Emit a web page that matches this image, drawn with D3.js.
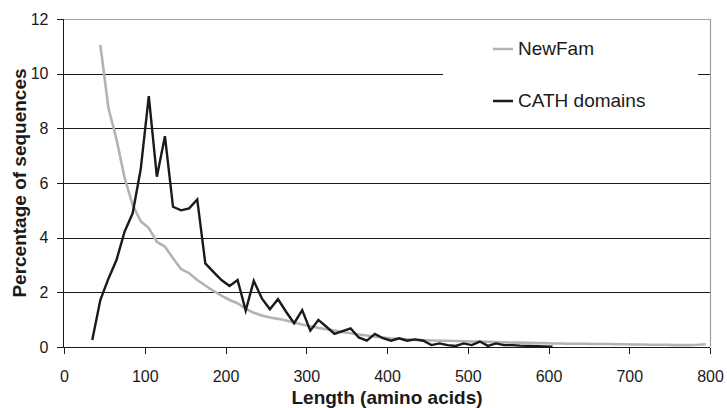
<!DOCTYPE html>
<meta charset="utf-8">
<style>
body { margin: 0; background: #fff; }
svg text { font-family: "Liberation Sans", Arial, sans-serif; fill: #1a1a1a; }
.tick text { font-size: 16px; }
.axis path, .axis line { stroke: #1a1a1a; shape-rendering: crispEdges; }
</style>
<body>
<svg id="chart" width="727" height="408"></svg>
<script src="https://cdn.jsdelivr.net/npm/d3@7"></script>
<script>
// bin centres (amino acids) and percentages
var newFamLen = [45,55,65,75,85,95,105,115,125,135,145,155,165,175,185,195,205,215,225,235,
  245,255,265,275,285,295,305,315,325,335,345,355,365,375,385,395,405,415,425,435,
  445,455,465,475,485,495,505,515,525,535,545,555,565,575,585,595,605,615,625,635,
  645,655,665,675,685,695,705,715,725,735,745,755,765,775,785,795];
var newFamPct = [11.05,8.75,7.6,6.2,5.2,4.6,4.35,3.85,3.67,3.25,2.85,2.7,2.45,2.25,2.05,1.88,1.72,1.6,1.4,1.25,
  1.15,1.08,1.03,0.97,0.9,0.82,0.76,0.7,0.65,0.6,0.55,0.5,0.46,0.42,0.38,0.35,0.32,0.3,0.28,0.26,
  0.25,0.24,0.23,0.23,0.22,0.21,0.2,0.2,0.19,0.18,0.17,0.16,0.16,0.15,0.14,0.14,0.13,0.13,0.12,0.12,
  0.12,0.11,0.11,0.11,0.1,0.1,0.09,0.09,0.08,0.08,0.08,0.07,0.07,0.07,0.08,0.1];

var cathLen = [35,45,55,65,75,85,95,105,115,125,135,145,155,165,175,185,195,205,215,225,
  235,245,255,265,275,285,295,305,315,325,335,345,355,365,375,385,395,405,415,425,
  435,445,455,465,475,485,495,505,515,525,535,545,555,565,575,585,595,605];
var cathPct = [0.26,1.72,2.5,3.18,4.22,4.89,6.5,9.18,6.23,7.71,5.13,5.0,5.07,5.4,3.06,2.75,2.45,2.23,2.45,1.33,
  2.42,1.78,1.38,1.75,1.29,0.87,1.35,0.6,0.99,0.74,0.48,0.58,0.68,0.35,0.23,0.48,0.32,0.23,0.32,0.23,
  0.28,0.23,0.07,0.13,0.07,0.04,0.13,0.07,0.2,0.04,0.13,0.07,0.07,0.05,0.04,0.03,0.02,0.01];

var xTicks = [0,100,200,300,400,500,600,700,800];
var yTicks = [0,2,4,6,8,10,12];
var gridVals = [2,4,6,8,10];

var svg = d3.select("#chart");
var x = d3.scaleLinear().domain([0, 800]).range([64, 710]);
var y = d3.scaleLinear().domain([0, 12]).range([347, 19]);

// gridlines
svg.append("g").selectAll("line")
  .data(gridVals)
  .enter().append("line")
  .attr("x1", x(0)).attr("x2", x(800))
  .attr("y1", function(d) { return Math.round(y(d)) + 0.5; })
  .attr("y2", function(d) { return Math.round(y(d)) + 0.5; })
  .attr("stroke", "#1a1a1a")
  .attr("stroke-width", 1);

// plot frame top/right
svg.append("path")
  .attr("d", "M" + x(0) + "," + (y(12) + 0.5) + "H" + (x(800) + 0.5) + "V" + y(0))
  .attr("fill", "none")
  .attr("stroke", "#a0a0a0")
  .attr("stroke-width", 1.2);

// legend box hides the 10% gridline
svg.append("rect")
  .attr("x", 443).attr("y", 30)
  .attr("width", 255).attr("height", 88)
  .attr("fill", "#fff");

var line = d3.line()
  .x(function(d) { return x(d[0]); })
  .y(function(d) { return y(d[1]); });

svg.append("path")
  .datum(d3.zip(newFamLen, newFamPct))
  .attr("d", line)
  .attr("fill", "none")
  .attr("stroke", "#b3b3b3")
  .attr("stroke-width", 2.6)
  .attr("stroke-linejoin", "round");

svg.append("path")
  .datum(d3.zip(cathLen, cathPct))
  .attr("d", line)
  .attr("fill", "none")
  .attr("stroke", "#1a1a1a")
  .attr("stroke-width", 2.4)
  .attr("stroke-linejoin", "miter");

// axes
svg.append("g")
  .attr("class", "axis")
  .attr("transform", "translate(0," + (Math.round(y(0)) + 0.5) + ")")
  .call(d3.axisBottom(x).tickValues(xTicks).tickSize(6).tickPadding(17))
  .call(function(g) { g.select(".domain").attr("d", "M" + x(0) + ",0H" + x(800)); });

svg.append("g")
  .attr("class", "axis")
  .attr("transform", "translate(" + (Math.round(x(0)) - 0.5) + ",0)")
  .call(d3.axisLeft(y).tickValues(yTicks).tickSize(7).tickPadding(8))
  .call(function(g) { g.select(".domain").attr("d", "M0," + y(12) + "V" + y(0)); });

// axis titles
svg.append("text")
  .attr("x", (x(0) + x(800)) / 2)
  .attr("y", 404)
  .attr("text-anchor", "middle")
  .attr("font-size", "19px")
  .attr("font-weight", "bold")
  .text("Length (amino acids)");

svg.append("text")
  .attr("transform", "translate(26," + (y(0) + y(12)) / 2 + ") rotate(-90)")
  .attr("text-anchor", "middle")
  .attr("font-size", "19px")
  .attr("font-weight", "bold")
  .text("Percentage of sequences");

// legend
var legend = [
  { name: "NewFam", color: "#b3b3b3", y: 49 },
  { name: "CATH domains", color: "#1a1a1a", y: 101 }
];
var lg = svg.append("g").selectAll("g")
  .data(legend)
  .enter().append("g");
lg.append("line")
  .attr("x1", 493).attr("x2", 513)
  .attr("y1", function(d) { return d.y; })
  .attr("y2", function(d) { return d.y; })
  .attr("stroke", function(d) { return d.color; })
  .attr("stroke-width", 2.5);
lg.append("text")
  .attr("x", 518)
  .attr("y", function(d) { return d.y + 6; })
  .attr("font-size", "19px")
  .text(function(d) { return d.name; });
</script>
</body>
